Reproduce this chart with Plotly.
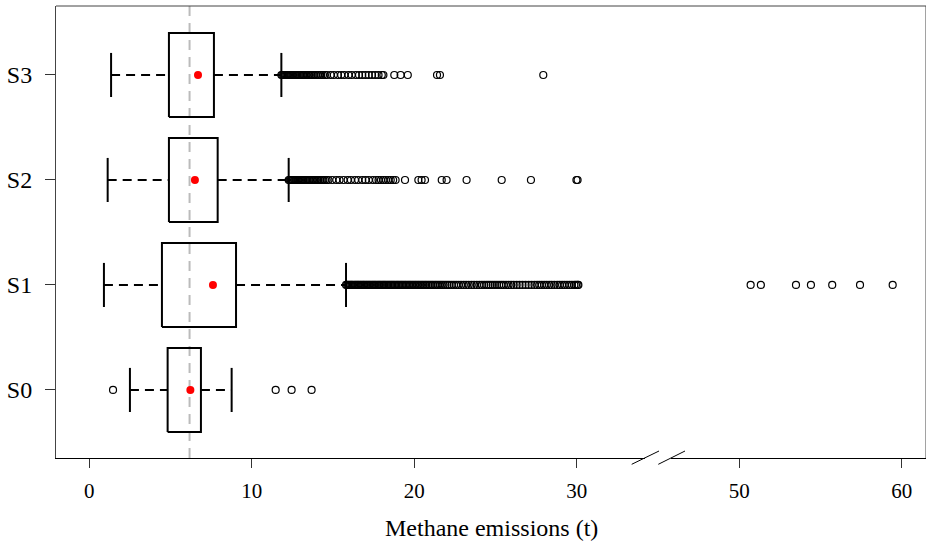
import plotly.graph_objects as go

# Scenario summaries (methane emissions, t)
groups = ["S0", "S1", "S2", "S3"]
lower_whisker = [2.50, 0.90, 1.13, 1.34]
q1 = [4.82, 4.47, 4.90, 4.90]
q3 = [6.87, 9.03, 7.90, 7.67]
upper_whisker = [8.76, 15.80, 12.27, 11.82]
means = [6.22, 7.61, 6.50, 6.69]
reference_mean = 6.17

outliers_s0 = [1.46, 11.47, 12.45, 13.68]
outliers_s1 = [
    15.80, 15.87, 15.93, 16.01, 16.08, 16.15, 16.21, 16.30, 16.37, 16.44,
    16.52, 16.58, 16.66, 16.73, 16.81, 16.88, 16.95, 17.03, 17.10, 17.18,
    17.25, 17.33, 17.41, 17.48, 17.56, 17.63, 17.71, 17.79, 17.86, 17.94,
    18.02, 18.10, 18.17, 18.25, 18.33, 18.41, 18.49, 18.57, 18.65, 18.73,
    18.81, 18.90, 18.98, 19.06, 19.15, 19.23, 19.31, 19.40, 19.48, 19.57,
    19.66, 19.74, 19.83, 19.92, 20.01, 20.10, 20.19, 20.28, 20.37, 20.47,
    20.56, 20.66, 20.75, 20.85, 20.95, 21.05, 21.15, 21.26, 21.36, 21.47,
    21.58, 21.69, 21.80, 21.92, 22.04, 22.16,
    22.30, 22.44, 22.58, 22.73, 22.88, 23.04, 23.19, 23.35, 23.52, 23.68,
    23.85, 24.01, 24.16, 24.30, 24.44, 24.57, 24.70, 24.83, 24.96, 25.09,
    25.22, 25.36, 25.50, 25.65, 25.80, 25.96, 26.12, 26.30, 26.48, 26.66,
    26.85, 27.04, 27.22, 27.40, 27.56,
    27.70, 27.85, 28.00, 28.15, 28.30, 28.45, 28.62, 28.80,
    28.95, 29.10, 29.25, 29.40, 29.55, 29.70, 29.85, 29.95, 30.05, 30.10,
    50.70, 51.33, 53.49, 54.41, 55.72, 57.43, 59.44,
]
outliers_s2 = [
    12.27, 12.33, 12.40, 12.46, 12.53, 12.60, 12.67, 12.74, 12.81, 12.88,
    12.96, 13.03, 13.11, 13.18, 13.26, 13.34, 13.42, 13.50, 13.58, 13.67,
    13.75, 13.84, 13.93, 14.02, 14.11, 14.20, 14.30, 14.40, 14.50, 14.61,
    14.72,
    14.95, 15.20, 15.40, 15.65, 15.90, 16.10, 16.35, 16.55, 16.80, 17.00,
    17.20, 17.45, 17.65, 17.80, 17.95, 18.10, 18.25, 18.40, 18.55, 18.70,
    18.85,
    19.43, 20.25, 20.45, 20.66, 21.69, 21.99, 23.22, 25.38, 27.18, 29.98,
    30.05,
]
outliers_s3 = [
    11.82, 11.88, 11.95, 12.01, 12.08, 12.15, 12.22, 12.29, 12.36, 12.43,
    12.51, 12.58, 12.66, 12.73, 12.81, 12.89, 12.97, 13.05, 13.13, 13.22,
    13.30, 13.39, 13.48, 13.57, 13.66, 13.75, 13.85, 13.95, 14.05, 14.16,
    14.27, 14.38, 14.50, 14.62,
    14.85, 15.05, 15.30, 15.50, 15.70, 15.95, 16.15, 16.40, 16.60, 16.80,
    17.00, 17.20, 17.40, 17.60, 17.80, 18.00, 18.10,
    18.77, 19.16, 19.60, 21.40, 21.58, 27.94,
]
outliers = [outliers_s0, outliers_s1, outliers_s2, outliers_s3]

left_ticks = [0, 10, 20, 30]
right_ticks = [50, 60]
break_value = 40  # values above this sit on the right-hand axis segment

FONT = "Liberation Serif, Times New Roman, serif"
BOX_HALF = 0.4
CAP_HALF = 0.21

fig = go.Figure()

for i, name in enumerate(groups):
    y = i + 1
    # whiskers (dashed)
    fig.add_trace(go.Scatter(
        x=[lower_whisker[i], q1[i], None, q3[i], upper_whisker[i]],
        y=[y, y, None, y, y], mode="lines",
        line=dict(color="black", width=2, dash="9px,6px"),
        hoverinfo="skip", showlegend=False))
    # whisker caps
    fig.add_trace(go.Scatter(
        x=[lower_whisker[i], lower_whisker[i], None, upper_whisker[i], upper_whisker[i]],
        y=[y - CAP_HALF, y + CAP_HALF, None, y - CAP_HALF, y + CAP_HALF],
        mode="lines", line=dict(color="black", width=2),
        hoverinfo="skip", showlegend=False))
    # box
    fig.add_trace(go.Scatter(
        x=[q1[i], q3[i], q3[i], q1[i], q1[i]],
        y=[y - BOX_HALF, y - BOX_HALF, y + BOX_HALF, y + BOX_HALF, y - BOX_HALF],
        mode="lines", line=dict(color="black", width=2),
        hoverinfo="skip", showlegend=False))
    # outliers, split across the broken axis
    left = [v for v in outliers[i] if v < break_value]
    right = [v for v in outliers[i] if v >= break_value]
    marker = dict(symbol="circle-open", size=7, color="black", line=dict(width=1.2))
    fig.add_trace(go.Scatter(x=left, y=[y] * len(left), mode="markers",
                             marker=marker, showlegend=False))
    if right:
        fig.add_trace(go.Scatter(x=right, y=[y] * len(right), mode="markers",
                                 marker=marker, showlegend=False,
                                 xaxis="x2"))
    # mean
    fig.add_trace(go.Scatter(x=[means[i]], y=[y], mode="markers",
                             marker=dict(color="red", size=8),
                             showlegend=False))

# reference mean line
fig.add_shape(type="line", xref="x", yref="paper",
              x0=reference_mean, x1=reference_mean, y0=0, y1=1,
              line=dict(color="#bbbbbb", width=2, dash="10px,7px"), layer="below")

# frame: top and right edges
fig.add_shape(type="line", xref="paper", yref="paper", x0=0, x1=1, y0=1, y1=1,
              line=dict(color="#444444", width=1))
fig.add_shape(type="line", xref="paper", yref="paper", x0=1, x1=1, y0=0, y1=1,
              line=dict(color="#444444", width=1))

# axis break marks
W, H, L, T = 870, 452, 56, 6
def px(xp):
    return (xp - L) / W
def py(yp):
    return (T + H - yp) / H
for x0, x1 in [(631.7, 659.0), (658.3, 685.0)]:
    fig.add_shape(type="line", xref="paper", yref="paper",
                  x0=px(x0), y0=py(464.3), x1=px(x1), y1=py(451.0),
                  line=dict(color="black", width=1))

tickfont = dict(family=FONT, size=21, color="black")
axis_common = dict(showgrid=False, zeroline=False, showline=True,
                   linecolor="black", linewidth=1, ticks="outside",
                   ticklen=9, tickwidth=1, tickcolor="#333333",
                   tickfont=tickfont, ticklabelstandoff=5, anchor="y")

fig.update_layout(
    width=926, height=542, autosize=False,
    margin=dict(l=L, r=0, t=T, b=542 - T - H),
    plot_bgcolor="white", paper_bgcolor="white",
    xaxis=dict(domain=[0, (645 - L) / W], range=[-2.05, 34.2],
               tickvals=left_ticks, **axis_common),
    xaxis2=dict(domain=[(671 - L) / W, 1], range=[45.8, 61.49],
                tickvals=right_ticks, **axis_common),
    yaxis=dict(range=[0.352, 4.657], tickvals=[1, 2, 3, 4], ticktext=groups,
               showgrid=False, zeroline=False, showline=True,
               linecolor="#444444", linewidth=1, ticks="outside", ticklen=10,
               tickcolor="#333333", ticklabelstandoff=8,
               tickfont=dict(family=FONT, size=24, color="black")),
    annotations=[dict(text="Methane emissions (t)", xref="paper", yref="paper",
                      x=0.5, y=py(528), xanchor="center", yanchor="middle",
                      showarrow=False,
                      font=dict(family=FONT, size=24, color="black"))],
)

fig.write_html("out.html")
